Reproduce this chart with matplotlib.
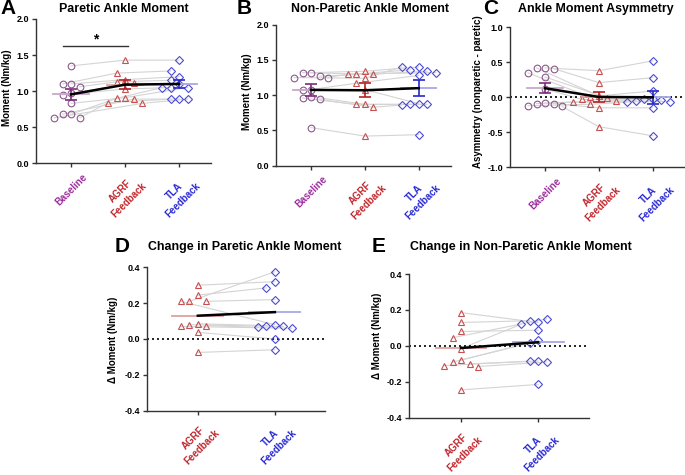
import numpy as np
import matplotlib
matplotlib.use("Agg")
import matplotlib.pyplot as plt

plt.rcParams['font.family'] = ['Liberation Sans', 'DejaVu Sans']
plt.rcParams['font.weight'] = 'bold'

# ---------------------------------------------------------------------------
# Data (one value per subject, same subject order inside each panel)
# ---------------------------------------------------------------------------
group_names = ["Baseline", "AGRF\nFeedback", "TLA\nFeedback"]

# A: paretic ankle moment (Nm/kg)
pa_base = [1.35, 1.10, 1.10, 1.06, 0.97, 0.95, 0.83, 0.68, 0.68, 0.63, 0.63]
pa_agrf = [1.43, 1.16, 1.25, 1.13, 1.11, 1.03, 0.91, 0.90, 0.89, 0.84, 0.83]
pa_tla = [1.43, 1.20, 1.28, 1.15, 1.10, 1.05, 1.05, 1.05, 0.89, 0.89, 0.89]
pa_mean = [0.955, 1.09, 1.10]
pa_sem = [0.075, 0.065, 0.06]

# B: non-paretic ankle moment (Nm/kg)
np_base = [1.32, 1.32, 1.27, 1.25, 1.25, 1.08, 1.08, 0.98, 0.96, 0.94, 0.54]
np_agrf = [1.34, 1.30, 1.30, 1.24, 1.30, 1.17, 1.08, 0.87, 0.87, 0.83, 0.42]
np_tla = [1.40, 1.36, 1.34, 1.40, 1.32, 1.28, 0.88, 0.87, 0.87, 0.86, 0.44]
np_mean = [1.075, 1.07, 1.10]
np_sem = [0.08, 0.10, 0.11]

# C: asymmetry (nonparetic - paretic)
as_base = [0.42, 0.42, 0.41, 0.35, 0.29, 0.12, -0.08, -0.09, -0.09, -0.12, -0.13]
as_agrf = [0.38, 0.02, 0.21, 0.0, -0.01, -0.03, -0.05, -0.07, -0.15, -0.10, -0.42]
as_tla = [0.52, 0.09, 0.28, -0.02, -0.03, -0.04, -0.05, -0.06, -0.15, -0.07, -0.55]
as_mean = [0.13, 0.005, 0.0]
as_sem = [0.075, 0.065, 0.095]

# D: change in paretic ankle moment
dp_agrf = [0.30, 0.245, 0.21, 0.21, 0.21, 0.085, 0.08, 0.075, 0.07, 0.037, -0.075]
dp_tla = [0.32, 0.285, 0.375, 0.22, 0.08, 0.075, 0.07, 0.065, 0.06, 0.0, -0.06]
dp_mean = [0.13, 0.15]

# E: change in non-paretic ankle moment
dn_agrf = [0.185, 0.13, 0.08, 0.045, -0.015, -0.08, -0.09, -0.10, -0.11, -0.115, -0.245]
dn_tla = [0.13, 0.14, 0.087, 0.15, 0.12, 0.03, 0.015, -0.085, -0.085, -0.09, -0.215]
dn_mean = [-0.012, 0.02]

# ---------------------------------------------------------------------------
# Styles
# ---------------------------------------------------------------------------
label_colors = ["#9B2C9B", "#C1272D", "#2A2AD4"]
marker_styles = [
    dict(marker="o", ms=4.8, mec="#8A5A8A"),
    dict(marker="^", ms=4.8, mec="#C85050"),
    dict(marker="D", ms=3.6, mec="#4B4BD2"),
]
mean_colors = ["#C8A8C8", "#E0A0A0", "#A8A8E6"]
err_colors = ["#7A2E7A", "#B22222", "#2828C8"]
AX_COLOR = "#333333"

W, H = 685, 475
fig = plt.figure(figsize=(W / 100, H / 100), dpi=100)


def add_axes(left, right, top, bottom):
    return fig.add_axes([left / W, 1 - bottom / H, (right - left) / W, (bottom - top) / H])


def swarm_x(ax, x0, vals, step=8.5):
    # spread overlapping points sideways, like a dot plot
    pts = ax.transData.transform(np.column_stack([np.full(len(vals), x0), vals]))
    placed = []
    for px, py in pts:
        for k in [0, -1, 1, -2, 2, -3, 3]:
            cx = px + k * step
            if all((cx - qx) ** 2 + (py - qy) ** 2 >= 6.5 ** 2 for qx, qy in placed):
                break
        placed.append((cx, py))
    return ax.transData.inverted().transform(np.array(placed))[:, 0]


def style_axes(ax, xlim, ylim, yticks, groups):
    ax.set_xlim(*xlim)
    ax.set_ylim(*ylim)
    for s in ["top", "right"]:
        ax.spines[s].set_visible(False)
    for s in ["left", "bottom"]:
        ax.spines[s].set_color(AX_COLOR)
        ax.spines[s].set_linewidth(1.0)
    ax.set_yticks(yticks)
    ax.set_yticklabels([f"{v:.1f}" for v in yticks], fontsize=6.5, fontweight="bold")
    ax.tick_params(axis="both", length=3, width=1, color=AX_COLOR, pad=2)
    ax.tick_params(axis="x", pad=3)
    ax.set_xticks(range(len(groups)))
    labs = ax.set_xticklabels([group_names[g] for g in groups], rotation=45, ha="center",
                              va="top", multialignment="center", linespacing=1.3,
                              fontsize=7.0, fontweight="bold")
    for lab, g in zip(labs, groups):
        lab.set_color(label_colors[g])


def draw_panel(ax, series, groups, means, sems=None):
    xs = [swarm_x(ax, i, vals) for i, vals in enumerate(series)]
    n = len(series[0])
    for j in range(n):
        ax.plot([x[j] for x in xs], [v[j] for v in series], color="#D4D4D4", lw=0.8, zorder=1)
    for i, (x, vals) in enumerate(zip(xs, series)):
        st = marker_styles[groups[i]]
        ax.plot(x, vals, ls="none", marker=st["marker"], ms=st["ms"], mfc="none",
                mec=st["mec"], mew=0.8, zorder=3)
    for i, m in enumerate(means):
        g = groups[i]
        ax.plot([i - 0.33, i + 0.33], [m, m], color=mean_colors[g], lw=1.3, zorder=4)
        if sems is not None:
            ax.errorbar(i, m, yerr=sems[i], color=err_colors[g], lw=1.2, capsize=4.5,
                        capthick=1.2, zorder=5)
    ax.plot(range(len(means)), means, color="black", lw=1.8, zorder=6)


def zero_line(ax):
    ax.axhline(0, color="black", lw=1.2, ls=(0, (1.2, 1.8)), zorder=2)


# A
axA = add_axes(36, 211.5, 19, 163.3)
style_axes(axA, (-0.65, 2.6), (0, 2), [0, 0.5, 1.0, 1.5, 2.0], [0, 1, 2])
draw_panel(axA, [pa_base, pa_agrf, pa_tla], [0, 1, 2], pa_mean, pa_sem)
axA.plot([-0.15, 1.05], [1.63, 1.63], color=AX_COLOR, lw=1)
axA.text(0.45, 1.72, "*", ha="center", va="center", fontsize=10, fontweight="bold")

# B
axB = add_axes(276, 451, 24.7, 165.7)
style_axes(axB, (-0.65, 2.6), (0, 2), [0, 0.5, 1.0, 1.5, 2.0], [0, 1, 2])
draw_panel(axB, [np_base, np_agrf, np_tla], [0, 1, 2], np_mean, np_sem)

# C
axC = add_axes(510, 685, 27.3, 167.3)
style_axes(axC, (-0.65, 2.6), (-1, 1), [-1.0, -0.5, 0.0, 0.5, 1.0], [0, 1, 2])
zero_line(axC)
draw_panel(axC, [as_base, as_agrf, as_tla], [0, 1, 2], as_mean, as_sem)

# D
axD = add_axes(147, 325, 267.3, 410.7)
style_axes(axD, (-0.66, 1.65), (-0.4, 0.4), [-0.4, -0.2, 0.0, 0.2, 0.4], [1, 2])
zero_line(axD)
draw_panel(axD, [dp_agrf, dp_tla], [1, 2], dp_mean)

# E
axE = add_axes(409, 589, 274, 417.7)
style_axes(axE, (-0.675, 1.66), (-0.4, 0.4), [-0.4, -0.2, 0.0, 0.2, 0.4], [1, 2])
zero_line(axE)
draw_panel(axE, [dn_agrf, dn_tla], [1, 2], dn_mean)

# titles, panel letters, y labels (pixel positions)
titles = [
    ("A", 8, 9, "Paretic Ankle Moment", 124, 9),
    ("B", 244, 9, "Non-Paretic Ankle Moment", 370, 9),
    ("C", 491, 9, "Ankle Moment Asymmetry", 596, 9),
    ("D", 122, 247, "Change in Paretic Ankle Moment", 245, 247),
    ("E", 379, 247, "Change in Non-Paretic Ankle Moment", 521, 247),
]
for letter, lx, ly, title, tx, ty in titles:
    fig.text(lx / W, 1 - ly / H, letter, fontsize=15, fontweight="bold", ha="center", va="center")
    fig.text(tx / W, 1 - ty / H, title, fontsize=8.9, fontweight="bold", ha="center", va="center")

ylabels = [
    ("Moment (Nm/kg)", 7, 88),
    ("Moment (Nm/kg)", 247, 92),
    ("Asymmetry (nonparetic - paretic)", 478, 92),
    ("\u0394 Moment (Nm/kg)", 113, 340),
    ("\u0394 Moment (Nm/kg)", 377, 336),
]
for text, x, y in ylabels:
    fig.text(x / W, 1 - y / H, text, rotation=90, fontsize=7, fontweight="bold",
             ha="center", va="center")

fig.savefig("out.png", dpi=100)
